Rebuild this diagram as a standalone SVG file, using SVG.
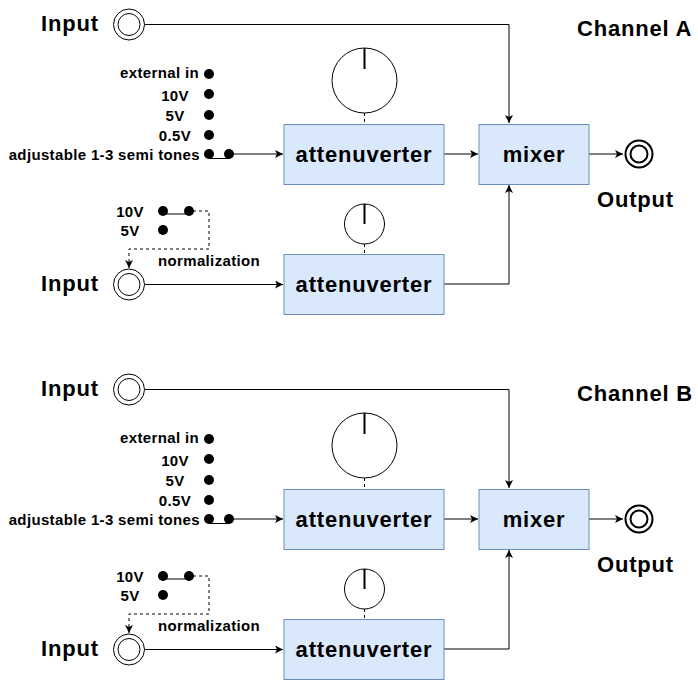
<svg xmlns="http://www.w3.org/2000/svg" width="698" height="684" viewBox="0 0 698 684">
<style>
text{font-family:"Liberation Sans",Arial,sans-serif;font-weight:bold;fill:#000}
.big{font-size:22px;letter-spacing:0.8px}
.sm{font-size:15px;letter-spacing:0.35px}
.box{fill:#dae8fc;stroke:#6c8ebf;stroke-width:1}
.ln{fill:none;stroke:#000;stroke-width:1}
.dash{fill:none;stroke:#000;stroke-width:1;stroke-dasharray:3 3}
.jack{fill:#fff;stroke:#000;stroke-width:1}
.jack2{fill:#fff;stroke:#000;stroke-width:2}
.knob{fill:#fff;stroke:#000;stroke-width:1}
.ptr{stroke:#000;stroke-width:2}
.dot{fill:#000}
</style>
<defs>
<marker id="arr" markerWidth="10" markerHeight="10" refX="8" refY="4" orient="auto" markerUnits="userSpaceOnUse">
<path d="M0,0 L8,4 L0,8 L2,4 z" fill="#000"/>
</marker>
</defs>
<rect width="698" height="684" fill="#fff"/>

<!-- Channel A -->
<g id="channelA">
<g id="connectorsA">
<path class="ln" d="M144.5,24.5 H509 V123" marker-end="url(#arr)"/>
<path class="ln" d="M444,154 H478" marker-end="url(#arr)"/>
<path class="ln" d="M589,154 H623" marker-end="url(#arr)"/>
<path class="ln" d="M444,284 H509 V185" marker-end="url(#arr)"/>
<path class="ln" d="M144.5,284.5 H283" marker-end="url(#arr)"/>
<path class="ln" d="M229,154 H283" marker-end="url(#arr)"/>
<path class="ln" d="M209,158.5 H229"/>
<path class="ln" d="M163,214 H189"/>
<path class="dash" d="M193,211 H209 V249 H129 V268" marker-end="url(#arr)"/>
<path class="dash" d="M364.5,113 V124"/>
<path class="dash" d="M364.5,244 V254"/>
</g>
<g id="inputA1"><circle class="jack" cx="129" cy="24.5" r="15.5"/><circle class="jack" cx="129" cy="24.5" r="11"/><text class="big" x="41" y="31">Input</text></g>
<g id="titleA"><text class="big" x="577" y="36">Channel A</text></g>
<g id="knobA1"><circle class="knob" cx="364.5" cy="80.5" r="32.5"/><line class="ptr" x1="364.5" y1="48" x2="364.5" y2="69"/></g>
<g id="knobA2"><circle class="knob" cx="364.5" cy="224" r="20"/><line class="ptr" x1="364.5" y1="204" x2="364.5" y2="224"/></g>
<g id="attA1"><rect class="box" x="284" y="124.5" width="160" height="60"/><text class="big" x="364" y="162" text-anchor="middle">attenuverter</text></g>
<g id="attA2"><rect class="box" x="284" y="254.5" width="160" height="60"/><text class="big" x="364" y="292" text-anchor="middle">attenuverter</text></g>
<g id="mixerA"><rect class="box" x="479" y="124.5" width="110" height="60"/><text class="big" x="534" y="162" text-anchor="middle">mixer</text></g>
<g id="outputA"><circle class="jack2" cx="639" cy="154" r="13.5"/><circle class="jack2" cx="639" cy="154" r="8.5"/><text class="big" x="597" y="207">Output</text></g>
<g id="switchA1">
<circle class="dot" cx="209" cy="74" r="5"/><circle class="dot" cx="209" cy="94" r="5"/><circle class="dot" cx="209" cy="115" r="5"/><circle class="dot" cx="209" cy="135" r="5"/><circle class="dot" cx="209" cy="154" r="5"/><circle class="dot" cx="229" cy="154" r="5"/>
<text class="sm" x="199" y="78" text-anchor="end">external in</text>
<text class="sm" x="175" y="101" text-anchor="middle">10V</text>
<text class="sm" x="175" y="121" text-anchor="middle">5V</text>
<text class="sm" x="175" y="141" text-anchor="middle">0.5V</text>
<text class="sm" x="200" y="160" text-anchor="end">adjustable 1-3 semi tones</text>
</g>
<g id="switchA2">
<circle class="dot" cx="163" cy="211" r="5"/><circle class="dot" cx="189" cy="211" r="5"/><circle class="dot" cx="163" cy="230" r="5"/>
<text class="sm" x="130" y="217" text-anchor="middle">10V</text>
<text class="sm" x="130" y="236" text-anchor="middle">5V</text>
<text class="sm" x="158" y="266">normalization</text>
</g>
<g id="inputA2"><circle class="jack" cx="129" cy="284.5" r="15.5"/><circle class="jack" cx="129" cy="284.5" r="11"/><text class="big" x="41" y="291">Input</text></g>
</g>

<!-- Channel B -->
<g id="channelB" transform="translate(0,365)">
<g id="connectorsB">
<path class="ln" d="M144.5,24.5 H509 V123" marker-end="url(#arr)"/>
<path class="ln" d="M444,154 H478" marker-end="url(#arr)"/>
<path class="ln" d="M589,154 H623" marker-end="url(#arr)"/>
<path class="ln" d="M444,284 H509 V185" marker-end="url(#arr)"/>
<path class="ln" d="M144.5,284.5 H283" marker-end="url(#arr)"/>
<path class="ln" d="M229,154 H283" marker-end="url(#arr)"/>
<path class="ln" d="M209,158.5 H229"/>
<path class="ln" d="M163,214 H189"/>
<path class="dash" d="M193,211 H209 V249 H129 V268" marker-end="url(#arr)"/>
<path class="dash" d="M364.5,113 V124"/>
<path class="dash" d="M364.5,244 V254"/>
</g>
<g id="inputB1"><circle class="jack" cx="129" cy="24.5" r="15.5"/><circle class="jack" cx="129" cy="24.5" r="11"/><text class="big" x="41" y="31">Input</text></g>
<g id="titleB"><text class="big" x="577" y="36">Channel B</text></g>
<g id="knobB1"><circle class="knob" cx="364.5" cy="80.5" r="32.5"/><line class="ptr" x1="364.5" y1="48" x2="364.5" y2="69"/></g>
<g id="knobB2"><circle class="knob" cx="364.5" cy="224" r="20"/><line class="ptr" x1="364.5" y1="204" x2="364.5" y2="224"/></g>
<g id="attB1"><rect class="box" x="284" y="124.5" width="160" height="60"/><text class="big" x="364" y="162" text-anchor="middle">attenuverter</text></g>
<g id="attB2"><rect class="box" x="284" y="254.5" width="160" height="60"/><text class="big" x="364" y="292" text-anchor="middle">attenuverter</text></g>
<g id="mixerB"><rect class="box" x="479" y="124.5" width="110" height="60"/><text class="big" x="534" y="162" text-anchor="middle">mixer</text></g>
<g id="outputB"><circle class="jack2" cx="639" cy="154" r="13.5"/><circle class="jack2" cx="639" cy="154" r="8.5"/><text class="big" x="597" y="207">Output</text></g>
<g id="switchB1">
<circle class="dot" cx="209" cy="74" r="5"/><circle class="dot" cx="209" cy="94" r="5"/><circle class="dot" cx="209" cy="115" r="5"/><circle class="dot" cx="209" cy="135" r="5"/><circle class="dot" cx="209" cy="154" r="5"/><circle class="dot" cx="229" cy="154" r="5"/>
<text class="sm" x="199" y="78" text-anchor="end">external in</text>
<text class="sm" x="175" y="101" text-anchor="middle">10V</text>
<text class="sm" x="175" y="121" text-anchor="middle">5V</text>
<text class="sm" x="175" y="141" text-anchor="middle">0.5V</text>
<text class="sm" x="200" y="160" text-anchor="end">adjustable 1-3 semi tones</text>
</g>
<g id="switchB2">
<circle class="dot" cx="163" cy="211" r="5"/><circle class="dot" cx="189" cy="211" r="5"/><circle class="dot" cx="163" cy="230" r="5"/>
<text class="sm" x="130" y="217" text-anchor="middle">10V</text>
<text class="sm" x="130" y="236" text-anchor="middle">5V</text>
<text class="sm" x="158" y="266">normalization</text>
</g>
<g id="inputB2"><circle class="jack" cx="129" cy="284.5" r="15.5"/><circle class="jack" cx="129" cy="284.5" r="11"/><text class="big" x="41" y="291">Input</text></g>
</g>
</svg>
